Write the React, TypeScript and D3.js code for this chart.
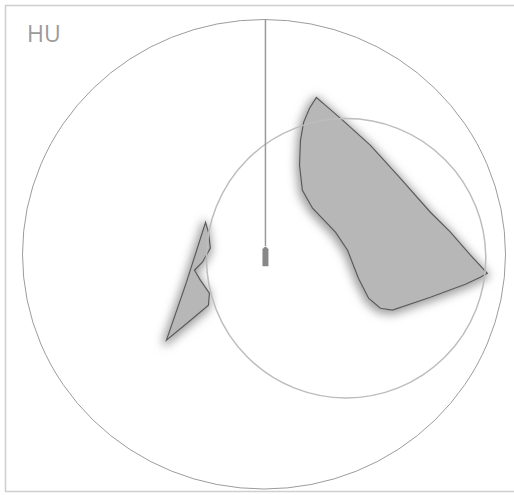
import React from "react";
import * as d3 from "d3";

const title = "HU";
// Echo polygons in km (x east, y north) relative to radar site
const echoMain: [number, number][] = [
  [21.7, 66.8], [18.8, 62.1], [16.4, 56.2], [15.1, 48.5], [14.7, 37.9], [15.9, 27.2],
  [20.1, 19.6], [29.6, 9.4], [34.6, 1.7], [39.1, -10.2], [43.3, -18.7], [48.2, -23.0],
  [53.2, -23.8], [68.9, -18.3], [83.4, -12.8], [89.6, -9.8], [92.5, -8.1], [85.5, -0.4],
  [77.2, 9.4], [68.9, 17.9], [56.5, 32.3], [44.1, 46.4], [31.7, 57.9], [25.5, 63.4],
];
const echoSmall: [number, number][] = [
  [-24.2, 13.6], [-23.0, 9.4], [-22.2, 2.6], [-25.5, -3.4], [-28.8, -6.8], [-26.3, -11.1],
  [-22.6, -16.6], [-23.0, -21.7], [-30.4, -28.1], [-40.4, -36.6], [-32.1, -11.9],
];
const maxRange = 100;
const rangeRing = { cx: 34.0, cy: -1.7, r: 59.5 };
const beamAzimuthTop = 100;

export default function App() {
  const W = 514, H = 495;
  const x = d3.scaleLinear().domain([-maxRange, maxRange]).range([22.5, 505.5]);
  const y = d3.scaleLinear().domain([-maxRange, maxRange]).range([489, 19.5]);
  const line = d3.line<[number, number]>().x(d => x(d[0])).y(d => y(d[1])).curve(d3.curveLinearClosed);
  const kx = (x(1) - x(0));
  const ky = (y(0) - y(1));
  const cx0 = x(0), cy0 = y(0);
  return (
    <svg width={W} height={H} style={{ position: "absolute", left: 0, top: 0, background: "#fff" }}>
      <defs>
        <filter id="glow" x="-30%" y="-30%" width="160%" height="160%">
          <feMorphology in="SourceAlpha" operator="dilate" radius={2} result="d" />
          <feGaussianBlur in="d" stdDeviation={5} result="b" />
          <feOffset in="b" dx={-1} dy={2} result="o" />
          <feFlood floodColor="#a0a0a0" floodOpacity={1} />
          <feComposite in2="o" operator="in" result="s" />
          <feMerge>
            <feMergeNode in="s" />
            <feMergeNode in="SourceGraphic" />
          </feMerge>
        </filter>
      </defs>
      <rect x={5.5} y={5.5} width={530} height={486} fill="none" stroke="#cfcfcf" strokeWidth={1.5} />
      <text x={27} y={42} fontFamily="Open Sans, sans-serif" fontSize={23} fill="#9a9a9a">{title}</text>
      <ellipse cx={cx0} cy={cy0} rx={maxRange * kx} ry={maxRange * ky} fill="none" stroke="#9c9c9c" strokeWidth={1} />
      <path d={line(echoMain) || ""} fill="#b7b7b7" stroke="#5a5a5a" strokeWidth={1.2} filter="url(#glow)" />
      <path d={line(echoSmall) || ""} fill="#b7b7b7" stroke="#5a5a5a" strokeWidth={1.2} filter="url(#glow)" />
      <circle cx={x(rangeRing.cx)} cy={y(rangeRing.cy)} r={rangeRing.r * ky}
        fill="none" stroke="#bdbdbd" strokeWidth={1.5} />
      <line x1={x(0.6)} x2={x(0.6)} y1={y(beamAzimuthTop)} y2={y(0) - 8} stroke="#999" strokeWidth={1.5} />
      <path d={`M${x(0.6) - 3},${y(0) + 12} V${y(0) - 5} Q${x(0.6)},${y(0) - 10} ${x(0.6) + 3},${y(0) - 5} V${y(0) + 12} Z`} fill="#888" />
    </svg>
  );
}
